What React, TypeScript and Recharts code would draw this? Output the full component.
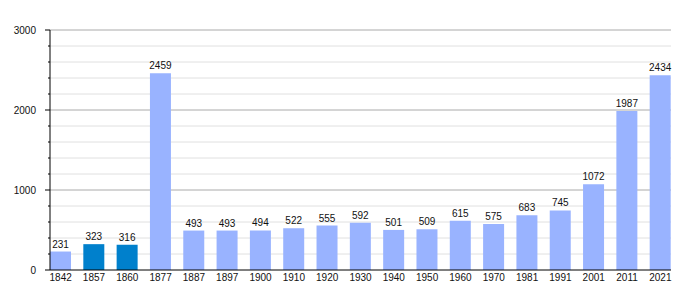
import { Bar, BarChart, CartesianGrid, Cell, LabelList, XAxis, YAxis } from "recharts";

const years = [
  "1842", "1857", "1860", "1877", "1887", "1897", "1900", "1910", "1920", "1930",
  "1940", "1950", "1960", "1970", "1981", "1991", "2001", "2011", "2021",
];
const population = [
  231, 323, 316, 2459, 493, 493, 494, 522, 555, 592, 501, 509, 615, 575, 683, 745, 1072, 1987, 2434,
];
const highlighted = ["1857", "1860"];

const yTicks = [0, 200, 400, 600, 800, 1000, 1200, 1400, 1600, 1800, 2000, 2200, 2400, 2600, 2800, 3000];
const yLabels = [0, 1000, 2000, 3000];
const minorLines = [200, 400, 600, 800, 1200, 1400, 1600, 1800, 2200, 2400, 2600, 2800];
const majorLines = [1000, 2000, 3000];

const data = years.map((year, i) => ({ year, value: population[i] }));

const FONT = "'Liberation Sans', Arial, sans-serif";

function YTick(props: any) {
  const { x, y, payload } = props;
  const major = yLabels.includes(payload.value);
  return (
    <g>
      <line x1={x - (major ? 5 : 2)} x2={x} y1={y} y2={y} stroke="#000" />
      {major && (
        <text x={x - 14} y={y} dy={3.5} textAnchor="end" fontSize={10} fontFamily={FONT} fill="#111">
          {payload.value}
        </text>
      )}
    </g>
  );
}

export default function App() {
  return (
    <div style={{ position: "absolute", left: 0, top: 0, width: 700, height: 300, background: "#fff" }}>
      <BarChart
        width={700}
        height={300}
        data={data}
        margin={{ top: 30, right: 29, bottom: 0, left: 0 }}
      >
        <CartesianGrid vertical={false} horizontalValues={minorLines} stroke="#e0e0e0" />
        <CartesianGrid vertical={false} horizontalValues={majorLines} stroke="#aaaaaa" />
        <XAxis
          dataKey="year"
          height={30}
          padding={{ left: -6, right: -6 }}
          tickLine={false}
          tickSize={0}
          tickMargin={4}
          axisLine={{ stroke: "#000" }}
          interval={0}
          tick={{ fontSize: 10, fontFamily: FONT, fill: "#111" }}
        />
        <YAxis
          width={50}
          domain={[0, 3000]}
          ticks={yTicks}
          interval={0}
          tickLine={false}
          tickSize={0}
          tickMargin={0}
          axisLine={{ stroke: "#000" }}
          tick={<YTick />}
        />
        <Bar dataKey="value" barSize={21} isAnimationActive={false}>
          {data.map((d) => (
            <Cell key={d.year} fill={highlighted.includes(d.year) ? "#0080cc" : "#99b3ff"} />
          ))}
          <LabelList
            dataKey="value"
            position="top"
            offset={4}
            fontSize={10}
            fontFamily={FONT}
            fill="#111"
            isAnimationActive={false}
          />
        </Bar>
      </BarChart>
    </div>
  );
}
